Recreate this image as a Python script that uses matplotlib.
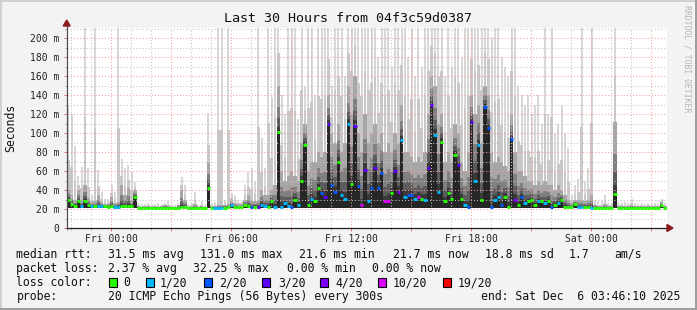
import matplotlib
matplotlib.use('Agg')
import matplotlib.pyplot as plt
from matplotlib.patches import Rectangle, Polygon
from matplotlib.lines import Line2D
import numpy as np

# ---------------- data (10-minute slots, start Thu 21:46:10, 30 hours) ----------------
rtt_med = [
    30, 25, 23, 28, 23, 29, 24, 23, 23, 23,
    23, 23, 22.5, 23, 22.5, 22.5, 23, 23, 23, 23,
    33, 21.5, 21.5, 21.5, 21.5, 21.5, 21.5, 21.5, 21.5, 21.5,
    21.5, 21.5, 21.5, 21.5, 22, 22, 21.5, 21.5, 21.5, 21.5,
    21.5, 21.5, 42, 21.5, 21.5, 21.5, 21.5, 21.5, 22, 24,
    22, 22, 22, 24, 23, 22, 22, 22, 24, 23,
    22.5, 28, 22.5, 101, 22.5, 26, 23, 22, 29.5, 24,
    50, 88, 24, 31, 28, 42, 36.5, 33, 110, 45,
    38, 70, 35, 31, 110, 46, 108, 44, 24, 61,
    28, 42, 63, 42, 58, 28, 28, 37, 60, 38,
    93, 33, 35, 35, 31, 33, 31, 29.5, 63, 130,
    98, 38, 91, 28, 37, 31, 77, 66, 31, 24,
    22.5, 112, 50, 88, 29.5, 128, 105, 22, 29.5, 33,
    24, 33, 22.5, 94, 29.5, 24, 33, 26, 28, 29.5,
    24, 28, 28, 26, 29, 22.5, 24, 26, 29.5, 22.5,
    22.5, 22.5, 25, 22.5, 22.5, 22.5, 22, 21.5, 21.5, 21.5,
    21.5, 21.5, 21.5, 21.5, 36, 21.5, 21.5, 21.5, 21.5, 21.5,
    21.5, 21.5, 21.5, 21.5, 21.5, 21.5, 21.5, 21.5, 24, 21.5,
]
loss_cnt = [
    0, 0, 0, 0, 1, 0, 0, 1, 0, 1,
    1, 0, 0, 0, 1, 1, 0, 0, 0, 0,
    0, 0, 0, 0, 0, 0, 0, 0, 0, 0,
    0, 0, 0, 0, 0, 0, 0, 0, 0, 0,
    0, 0, 0, 0, 1, 1, 1, 0, 0, 1,
    0, 0, 0, 0, 0, 2, 0, 3, 1, 1,
    0, 0, 1, 0, 1, 1, 1, 2, 0, 1,
    0, 0, 0, 1, 0, 0, 2, 3, 3, 2,
    2, 0, 1, 1, 1, 0, 3, 2, 10, 3,
    1, 2, 3, 2, 2, 10, 10, 0, 3, 4,
    1, 1, 2, 2, 1, 10, 0, 1, 3, 3,
    1, 1, 0, 0, 0, 0, 0, 3, 0, 1,
    2, 3, 1, 1, 0, 2, 2, 2, 1, 1,
    2, 0, 0, 2, 4, 0, 2, 1, 0, 0,
    0, 1, 0, 1, 0, 2, 0, 1, 0, 0,
    0, 0, 0, 1, 1, 0, 0, 1, 0, 0,
    0, 0, 0, 0, 0, 0, 0, 0, 0, 0,
    0, 0, 0, 0, 0, 0, 0, 0, 0, 0,
]
rtt_p90 = [
    40, 35, 30, 40, 30, 45, 32, 27, 28, 35,
    27, 25, 25, 33, 26, 27, 45, 35, 42, 30,
    40, 23, 22.5, 23, 23, 22.5, 23, 22.5, 23, 24,
    23, 22.5, 22.5, 24, 40, 30, 22.5, 23, 25, 22.5,
    23, 22.5, 70, 23, 23, 24, 24, 24, 25, 28,
    26, 25, 25, 30, 35, 30, 28, 30, 40, 35,
    35, 40, 45, 150, 60, 50, 55, 60, 55, 50,
    90, 110, 60, 70, 70, 80, 75, 80, 140, 100,
    90, 110, 80, 90, 150, 120, 160, 100, 80, 120,
    90, 100, 110, 90, 100, 80, 90, 80, 100, 90,
    130, 80, 80, 75, 70, 75, 70, 80, 120, 160,
    150, 110, 120, 70, 80, 70, 110, 100, 70, 60,
    80, 140, 120, 130, 90, 150, 140, 80, 70, 75,
    70, 65, 60, 120, 80, 60, 60, 55, 50, 50,
    45, 50, 45, 50, 45, 45, 40, 45, 40, 35,
    30, 26, 30, 30, 30, 28, 30, 35, 24, 23,
    23, 25, 23, 23, 112, 23, 23, 23, 23, 24,
    23, 23, 23, 23, 23, 23, 23, 23, 27, 23,
]
rtt_max = [
    130, 120, 87, 55, 64, 250, 63, 35, 250, 61,
    38, 31, 31, 45, 38, 250, 73, 63, 66, 59,
    49, 26, 25, 25, 26, 25, 25, 26, 25, 26,
    28, 24, 24, 26, 54, 45, 25, 26, 38, 24,
    28, 24, 121, 26, 27, 250, 250, 30, 250, 37,
    35, 30, 28, 45, 59, 63, 49, 250, 95, 63,
    250, 137, 250, 250, 140, 120, 250, 250, 250, 115,
    250, 150, 250, 250, 140, 250, 250, 250, 250, 150,
    250, 250, 250, 160, 250, 250, 250, 250, 250, 250,
    250, 250, 250, 180, 250, 250, 250, 170, 250, 250,
    250, 250, 180, 250, 160, 250, 170, 250, 250, 250,
    250, 250, 250, 160, 250, 170, 250, 250, 180, 250,
    250, 250, 250, 250, 250, 250, 250, 200, 250, 250,
    180, 170, 160, 250, 250, 150, 140, 130, 140, 120,
    130, 140, 110, 250, 120, 250, 100, 110, 130, 100,
    84, 35, 45, 52, 250, 50, 63, 250, 30, 28,
    28, 35, 26, 26, 250, 27, 26, 27, 26, 31,
    26, 25, 26, 25, 26, 25, 26, 25, 31, 26,
]
rtt_min = [
    21, 21, 21, 21, 21, 21, 21, 21, 21, 21,
    21, 21, 21, 21, 21, 21, 21, 21, 21, 21,
    21, 21, 21, 21, 21, 21, 21, 21, 21, 21,
    21, 21, 21, 21, 21, 21, 21, 21, 21, 21,
    21, 21, 21, 21, 21, 21, 21, 21, 21, 21,
    21, 21, 21, 21, 21, 21, 21, 21, 21, 21,
    21.5, 21.5, 21.5, 21.5, 21.5, 21.5, 21.5, 21.5, 21.5, 21.5,
    21.5, 21.5, 21.5, 21.5, 21.5, 21.5, 21.5, 21.5, 21.5, 21.5,
    21.5, 21.5, 21.5, 21.5, 21.5, 21.5, 21.5, 21.5, 21.5, 21.5,
    21.5, 21.5, 21.5, 21.5, 21.5, 21.5, 21.5, 21.5, 21.5, 21.5,
    21.5, 21.5, 21.5, 21.5, 21.5, 21.5, 21.5, 21.5, 21.5, 21.5,
    21.5, 21.5, 21.5, 21.5, 21.5, 21.5, 21.5, 21.5, 21.5, 21.5,
    21.5, 21.5, 21.5, 21.5, 21.5, 21.5, 21.5, 21.5, 21.5, 21.5,
    21.5, 21.5, 21.5, 21.5, 21.5, 21.5, 21.5, 21.5, 21.5, 21.5,
    21.5, 21.5, 21.5, 21.5, 21.5, 21.5, 21.5, 21.5, 21.5, 21.5,
    21, 21, 21, 21, 21, 21, 21, 21, 21, 21,
    21, 21, 21, 21, 21, 21, 21, 21, 21, 21,
    21, 21, 21, 21, 21, 21, 21, 21, 21, 21,
]

x_tick_labels = ["Fri 00:00", "Fri 06:00", "Fri 12:00", "Fri 18:00", "Sat 00:00"]
y_tick_values = [0, 20, 40, 60, 80, 100, 120, 140, 160, 180, 200]
y_tick_labels = ["0", "20 m", "40 m", "60 m", "80 m", "100 m", "120 m", "140 m",
                 "160 m", "180 m", "200 m"]

title = "Last 30 Hours from 04f3c59d0387"
row_median = [("median rtt:", 16.4), ("31.5 ms avg", 107.6), ("131.0 ms max", 200.5),
              ("21.6 ms min", 299.0), ("21.7 ms now", 393.0), ("18.8 ms sd", 485.0),
              ("1.7", 569.0), ("am/s", 614.0)]
row_loss = [("packet loss:", 16.4), ("2.37 % avg", 107.6), ("32.25 % max", 193.3),
            ("0.00 % min", 286.7), ("0.00 % now", 372.4)]
loss_legend_counts = [0, 1, 2, 3, 4, 10, 19]
loss_legend_labels = ["0", "1/20", "2/20", "3/20", "4/20", "10/20", "19/20"]
loss_legend_colors = ["#26ff00", "#00b8ff", "#0059ff", "#5e00ff", "#7e00ff", "#dd00ff", "#ff0000"]
probe_text = "20 ICMP Echo Pings (56 Bytes) every 300s"
end_text = "end: Sat Dec  6 03:46:10 2025"

# ---------------- figure setup ----------------
W, H = 697, 310
MONO = "DejaVu Sans Mono"
plt.rcParams['font.family'] = [MONO, 'DejaVu Sans']

fig = plt.figure(figsize=(W / 100, H / 100), dpi=100, facecolor='#f3f3f3')

def fx(x):
    return x / W

def fy(y):
    return 1 - y / H

AX_L, AX_R, AX_T, AX_B = 66.7, 666.7, 28.0, 228.0
ax = fig.add_axes([fx(AX_L), fy(AX_B), (AX_R - AX_L) / W, (AX_B - AX_T) / H])
ax.set_facecolor('white')
ax.set_xlim(0, 30)
ax.set_ylim(0, 211)
for s in ax.spines.values():
    s.set_visible(False)

STEP = 1 / 6.0
n = len(rtt_med)
xs = np.arange(n) * STEP
med = np.array(rtt_med, float)
p90 = np.array(rtt_p90, float)
mx = np.array(rtt_max, float)
mn = np.array(rtt_min, float)

def band(lo, hi, color, frac=1.0):
    h = np.clip(hi - lo, 0, None)
    w = STEP * frac
    ax.bar(xs + (STEP - w) / 2, h, bottom=lo, width=w, align='edge', color=color,
           linewidth=0, antialiased=False, zorder=2)

# light top of the smoke: inner part wide, outliers as thin spikes
band(p90, p90 + (mx - p90) * 0.35, '#c8c8c8', 0.85)
band(p90 + (mx - p90) * 0.35, mx, '#d8d8d8', 0.55)
# graded area between median and p90
fr = [0, 0.12, 0.3, 0.55, 1.0]
cols = ['#3a3a3a', '#5c5c5c', '#808080', '#a6a6a6']
for k in range(4):
    lo = med + (p90 - med) * fr[k]
    hi = med + (p90 - med) * fr[k + 1]
    band(lo, hi, cols[k])
# dark below the median
band(mn, med, '#262626')

def loss_color(c):
    col = loss_legend_colors[0]
    for t, cc in zip(loss_legend_counts, loss_legend_colors):
        if c >= t:
            col = cc
    return col

ax.hlines(med, xs, xs + STEP, colors=[loss_color(c) for c in loss_cnt],
          linewidth=2.1, zorder=5)

# ---------------- ticks & grid ----------------
fri0 = 2 + 13 / 60 + 50 / 3600   # Fri 00:00 in hours after start
major_x = [fri0 + 3 * k for k in range(10) if fri0 + 3 * k <= 30]
minor_x = [fri0 - 2 + k for k in range(31) if 0 <= fri0 - 2 + k <= 30]
labels_x = []
for i, p in enumerate(major_x):
    labels_x.append(x_tick_labels[i // 2] if i % 2 == 0 else "")
ax.set_xticks(major_x)
ax.set_xticklabels(labels_x)
ax.set_xticks(minor_x, minor=True)
ax.set_yticks(y_tick_values)
ax.set_yticklabels(y_tick_labels)
ax.set_yticks([10 + 20 * k for k in range(11)], minor=True)

ax.set_axisbelow(False)
ax.grid(which='major', color='#f2a0a0', linestyle=(0, (1, 2)), linewidth=0.75)
ax.grid(which='minor', color='#c4c4c4', linestyle=(0, (1, 2)), linewidth=0.75)

ax.tick_params(axis='both', which='major', length=2, width=0.7, color='#e07070',
               labelsize=7, labelcolor='#222222')
ax.tick_params(axis='both', which='minor', length=1.5, width=0.7, color='#aaaaaa')
ax.tick_params(axis='x', which='major', pad=2.5)
ax.tick_params(axis='y', which='major', pad=3.5)

# ---------------- axis lines & arrows ----------------
def pline(x0, y0, x1, y1, color, lw):
    fig.add_artist(Line2D([fx(x0), fx(x1)], [fy(y0), fy(y1)], color=color, lw=lw,
                          transform=fig.transFigure, zorder=10))

pline(AX_L, AX_B, 668, AX_B, '#202020', 0.9)
pline(AX_L, AX_B + 1, AX_L, 24, '#505050', 0.9)
fig.add_artist(Polygon([(fx(667), fy(AX_B - 3.5)), (fx(673), fy(AX_B)), (fx(667), fy(AX_B + 3.5))],
                       closed=True, color='#8b1a1a', transform=fig.transFigure, zorder=11))
fig.add_artist(Polygon([(fx(AX_L - 3.5), fy(26)), (fx(AX_L), fy(20)), (fx(AX_L + 3.5), fy(26))],
                       closed=True, color='#8b1a1a', transform=fig.transFigure, zorder=11))

# ---------------- texts ----------------
fig.text(fx(348), fy(19), title, ha='center', va='center', fontsize=9.6, color='#111111')
fig.text(fx(11), fy(128), "Seconds", rotation=90, ha='center', va='center',
         fontsize=8.3, color='#111111')
fig.text(fx(686.5), fy(5), "RRDTOOL / TOBI OETIKER", rotation=270, ha='center', va='top',
         fontsize=5.9, color='#b4b4b4')

LEG_FS = 8.3
for txt, x in row_median:
    fig.text(fx(x), fy(254.3), txt, ha='left', va='center', fontsize=LEG_FS, color='#111111')
for txt, x in row_loss:
    fig.text(fx(x), fy(268.5), txt, ha='left', va='center', fontsize=LEG_FS, color='#111111')
fig.text(fx(16.4), fy(282.5), "loss color:", ha='left', va='center', fontsize=LEG_FS, color='#111111')
box_x = [108.9, 145.8, 203.6, 262.0, 320.0, 377.8, 442.7]
lab_x = [123.6, 160.0, 218.7, 277.8, 335.6, 392.9, 457.8]
for bxp, lx, lab, col in zip(box_x, lab_x, loss_legend_labels, loss_legend_colors):
    fig.add_artist(Rectangle((fx(bxp), fy(287)), 8 / W, 9 / H, facecolor=col,
                             edgecolor='black', linewidth=0.8, transform=fig.transFigure))
    fig.text(fx(lx), fy(282.5), lab, ha='left', va='center', fontsize=LEG_FS, color='#111111')
fig.text(fx(16.4), fy(296.7), "probe:", ha='left', va='center', fontsize=LEG_FS, color='#111111')
fig.text(fx(107.6), fy(296.7), probe_text, ha='left', va='center', fontsize=LEG_FS, color='#111111')
fig.text(fx(680.5), fy(296.7), end_text, ha='right', va='center', fontsize=LEG_FS, color='#111111')

# ---------------- frame ----------------
for (x0, y0, w, h, c) in [(0, 0, W, 2, '#d0d0d0'), (0, 0, 2, H, '#d0d0d0'),
                          (0, H - 2, W, 2, '#9e9e9e'), (W - 2, 0, 2, H, '#9e9e9e')]:
    fig.add_artist(Rectangle((fx(x0), fy(y0 + h)), w / W, h / H, facecolor=c,
                             edgecolor='none', transform=fig.transFigure, zorder=20))

fig.savefig('out.png', dpi=100, facecolor=fig.get_facecolor())
